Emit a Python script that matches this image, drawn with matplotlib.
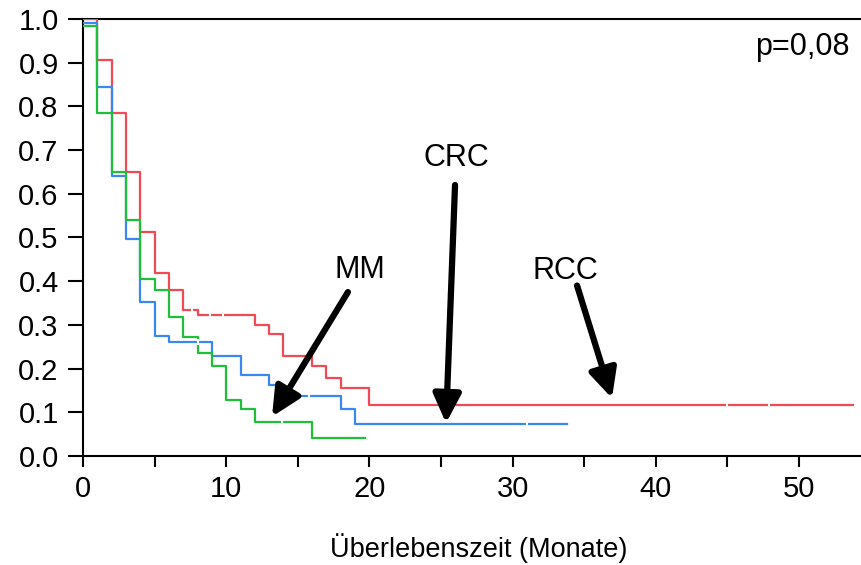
import numpy as np
import matplotlib
matplotlib.use('Agg')
import matplotlib.pyplot as plt

plt.rcParams['font.family'] = ['Liberation Sans', 'DejaVu Sans']

# Kaplan-Meier Stufen (Monate, Anteil)
rcc_t = [0, 1, 2, 3, 4, 5, 6, 7, 8, 12, 13, 14, 16, 17, 18, 20, 53.8]
rcc_s = [1.0, 0.906, 0.785, 0.65, 0.512, 0.418, 0.38, 0.334, 0.322, 0.30, 0.279,
         0.229, 0.206, 0.178, 0.156, 0.117, 0.117]
crc_t = [0, 1, 2, 3, 4, 5, 6, 9, 11, 13, 14, 18, 19, 33.8]
crc_s = [0.99, 0.845, 0.64, 0.497, 0.352, 0.275, 0.26, 0.229, 0.185, 0.162, 0.137,
         0.108, 0.073, 0.073]
mm_t = [0, 1, 2, 3, 4, 5, 6, 7, 8, 9, 10, 11, 12, 16, 19.7]
mm_s = [0.985, 0.785, 0.65, 0.54, 0.405, 0.38, 0.318, 0.272, 0.235, 0.206, 0.128,
        0.107, 0.078, 0.041, 0.041]

# zensierte Beobachtungen (Luecken in den Linien)
rcc_cens = [7.6, 8.9, 9.8, 45.0, 47.9]
crc_cens = [8.0, 14.9, 15.8, 31.0]
mm_cens = [13.9]

fig = plt.figure(figsize=(8.61, 5.65), dpi=100)
ax = fig.add_axes([0.0964, 0.193, 0.9036, 0.7734])

series = [(rcc_t, rcc_s, rcc_cens, '#f24a55'),
          (crc_t, crc_s, crc_cens, '#3b87f2'),
          (mm_t, mm_s, mm_cens, '#1fbf3a')]
for t, s, cens, col in series:
    ax.step(t, s, where='post', color=col, lw=1.6, zorder=3)
    idx = np.searchsorted(t, cens, side='right') - 1
    ax.plot(cens, np.array(s)[idx], linestyle='none', marker='|', color='white',
            markersize=4, mew=1.5, zorder=4)

arrow = dict(arrowstyle='-|>,head_length=0.62,head_width=0.3', lw=4.5,
             mutation_scale=28, color='black', shrinkA=0, shrinkB=0)
ax.annotate('', xy=(13.2, 0.090), xytext=(18.5, 0.375), arrowprops=arrow, zorder=5)
ax.annotate('', xy=(25.35, 0.075), xytext=(25.98, 0.62), arrowprops=arrow, zorder=5)
ax.annotate('', xy=(36.94, 0.132), xytext=(34.5, 0.39), arrowprops=arrow, zorder=5)
fs = 22
ax.text(19.34, 0.426, 'MM', fontsize=fs, ha='center', va='center')
ax.text(26.05, 0.682, 'CRC', fontsize=fs, ha='center', va='center')
ax.text(33.7, 0.424, 'RCC', fontsize=fs, ha='center', va='center')
ax.text(53.5, 0.936, 'p=0,08', fontsize=fs, ha='right', va='center')

ax.set_xlim(0, 54.33)
ax.set_ylim(0, 1.0)
ax.set_xticks(np.arange(0, 51, 10))
ax.set_xticks(np.arange(5, 55, 10), minor=True)
ax.set_yticks(np.round(np.arange(0, 1.01, 0.1), 1))
ax.set_yticklabels(['%.1f' % v for v in np.arange(0, 1.01, 0.1)])
ax.tick_params(axis='both', which='both', direction='out', width=1.5,
               labelsize=21, colors='black')
ax.tick_params(axis='y', length=10.5, pad=7)
ax.tick_params(axis='x', which='both', length=8, pad=6)
ax.spines['right'].set_visible(False)
for sp in ['left', 'bottom', 'top']:
    ax.spines[sp].set_linewidth(1.5)
ax.set_xlabel('Überlebenszeit (Monate)', fontsize=19.5, va='center')
ax.xaxis.set_label_coords(0.508, -0.21)

fig.savefig('out.png', dpi=100)
